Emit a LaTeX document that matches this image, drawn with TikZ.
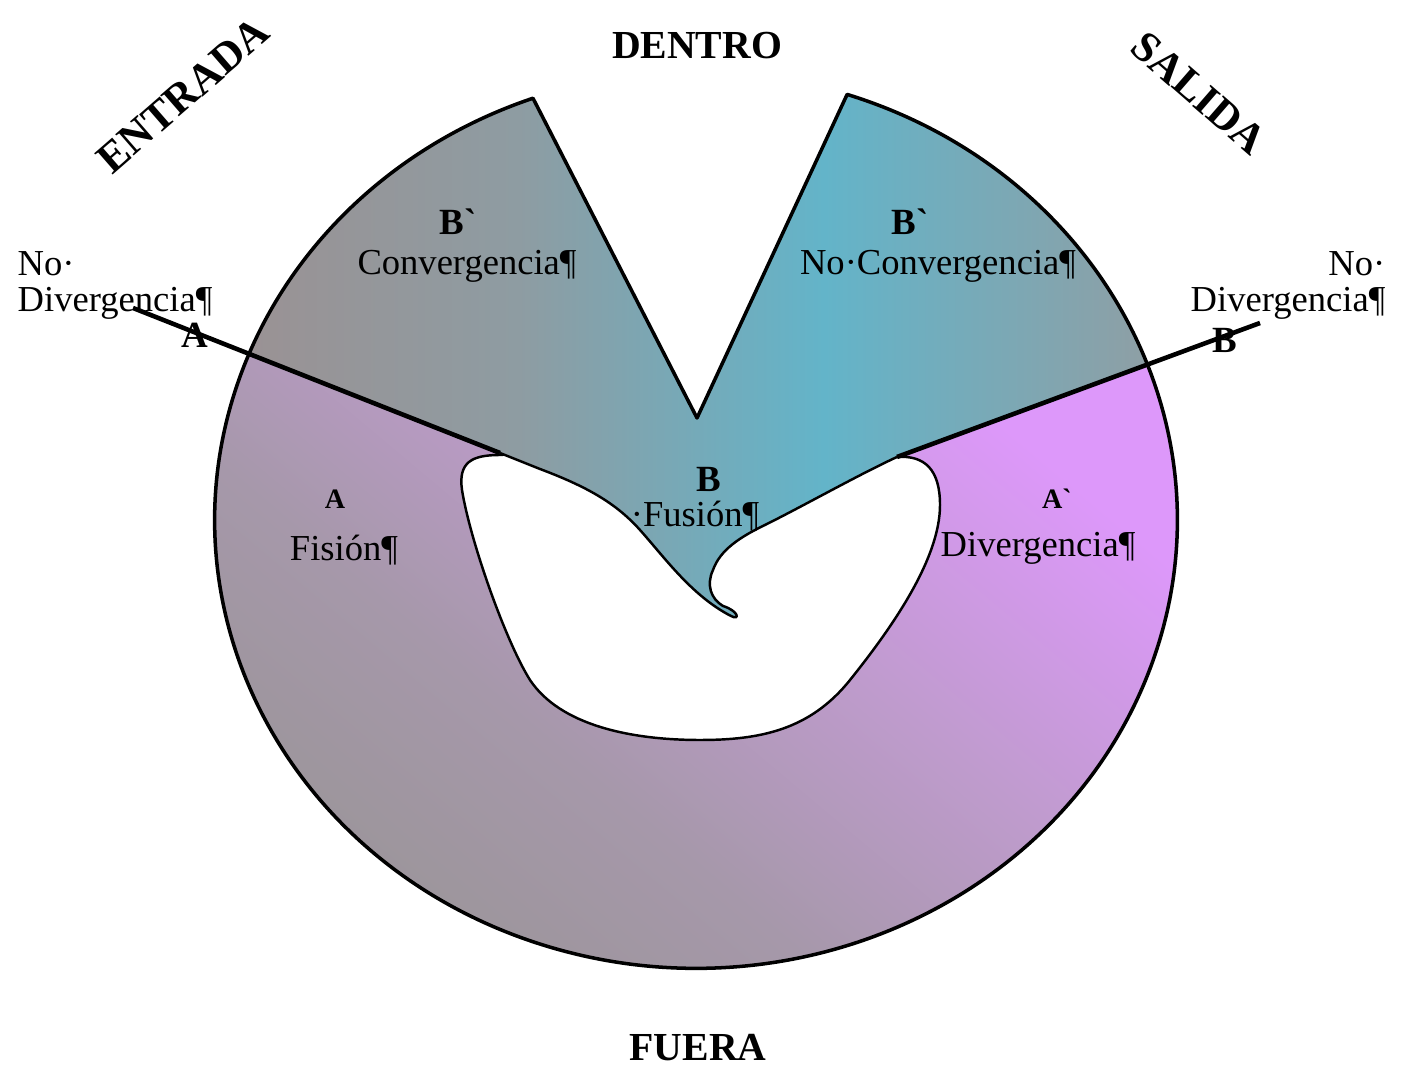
\documentclass[tikz,border=0pt]{standalone}
\usepackage{fontspec}
\setmainfont{Liberation Serif}
\newcommand\grv{\XeTeXglyph\XeTeXcharglyph"60\relax}
\definecolor{upA}{HTML}{9A9294}
\definecolor{upB}{HTML}{8E9CA2}
\definecolor{upC}{HTML}{63B4C9}
\definecolor{upD}{HTML}{8E9FA5}
\definecolor{loA}{HTML}{989495}
\definecolor{loB}{HTML}{A698AA}
\definecolor{loC}{HTML}{BF9BCD}
\definecolor{loD}{HTML}{DD98FA}
\pgfdeclarehorizontalshading{uppershade}{100bp}{color(0bp)=(upA); color(25bp)=(upA); color(40bp)=(upB); color(57bp)=(upC); color(75bp)=(upD); color(100bp)=(upD)}
\pgfdeclarehorizontalshading{lowershade}{100bp}{color(0bp)=(loA); color(25bp)=(loA); color(43bp)=(loB); color(58bp)=(loC); color(75bp)=(loD); color(100bp)=(loD)}
\tikzset{
  txt/.style={font=\fontsize{10.4}{10.2}\selectfont, inner sep=0pt},
  bl/.style={font=\bfseries\fontsize{10.5}{12}\selectfont, inner sep=0pt},
  sm/.style={font=\bfseries\fontsize{8}{10}\selectfont, inner sep=0pt},
  capt/.style={font=\bfseries\fontsize{11.3}{13}\selectfont, inner sep=0pt},
  capr/.style={font=\bfseries\fontsize{12.2}{14}\selectfont, inner sep=0pt},
  outline/.style={line width=1pt, line join=round},
  thickline/.style={line width=1.3pt},
  thinline/.style={line width=0.7pt}
}
\begin{document}
\begin{tikzpicture}[x=0.01cm, y=0.01cm]
\useasboundingbox (0,0) rectangle (1425,-1077);
% key points
\coordinate (C) at (696,-520);
\path (C) ++(158.3:4.81cm and 4.48cm) coordinate (LA);
\path (C) ++(20.3:4.81cm and 4.48cm) coordinate (RB);
\path (C) ++(71.7:4.81cm and 4.48cm) coordinate (RT);
\path (C) ++(109.8:4.81cm and 4.48cm) coordinate (LT);
\coordinate (VB) at (697,-418);
\coordinate (A0) at (133,-308);
\coordinate (A1) at (500,-453);
\coordinate (A2) at (540,-469);
\coordinate (T1) at (640,-530);
\coordinate (TT) at (731,-616);
\coordinate (T2) at (723,-606);
\coordinate (T3) at (713,-570);
\coordinate (T4) at (765,-525);
\coordinate (B1) at (897,-457);
\coordinate (B0) at (1260,-323);
% lower region
\path[shading=lowershade, shading angle=50] (LA) arc[start angle=158.3, end angle=380.3, x radius=4.81cm, y radius=4.48cm] -- (B1) -- (A1) -- cycle;
% hole
\filldraw[fill=white, thinline] (B1) .. controls (925,-455) and (940,-470) .. (940,-505)
  .. controls (940,-560) and (890,-630) .. (850,-680)
  .. controls (810,-730) and (760,-740) .. (700,-740)
  .. controls (630,-740) and (560,-725) .. (530,-680)
  .. controls (505,-640) and (470,-540) .. (462,-490)
  .. controls (458,-462) and (472,-455) .. (500,-455) -- (700,-440) -- cycle;
% upper region
\path[shading=uppershade] (LA) -- (A1) -- (A2) .. controls (585,-486) and (615,-502) .. (T1)
  .. controls (665,-558) and (692,-596) .. (TT)
  .. controls (740,-621) and (739,-611) .. (T2)
  .. controls (711,-599) and (706,-585) .. (T3)
  .. controls (720,-550) and (740,-537) .. (T4)
  .. controls (805,-505) and (860,-474) .. (B1) -- (RB)
  arc[start angle=20.3, end angle=71.7, x radius=4.81cm, y radius=4.48cm] -- (VB) -- (LT)
  arc[start angle=109.8, end angle=158.3, x radius=4.81cm, y radius=4.48cm] -- cycle;
% tongue outline
\draw[thinline] (A1) -- (A2) .. controls (585,-486) and (615,-502) .. (T1)
  .. controls (665,-558) and (692,-596) .. (TT)
  .. controls (740,-621) and (739,-611) .. (T2)
  .. controls (711,-599) and (706,-585) .. (T3)
  .. controls (720,-550) and (740,-537) .. (T4)
  .. controls (805,-505) and (860,-474) .. (B1);
% dividing lines
\draw[thickline] (A0) -- (A1);
\draw[thickline] (B0) -- (B1);
% outer outline
\draw[outline] (LT) -- (VB) -- (RT) arc[start angle=71.7, end angle=-250.2, x radius=4.81cm, y radius=4.48cm] -- cycle;
% texts
\node[capt, anchor=base] (dentro) at (697,-59) {DENTRO};
\node[capt, anchor=base] (fuera) at (698,-1060) {FUERA};
\node[capr, rotate=41, anchor=center] (entrada) at (183,-95) {ENTRADA};
\node[capr, rotate=-41, anchor=center] (salida) at (1199,-93) {SALIDA};
\node[txt, align=left, anchor=west] (nodivA) at (17,-285.5) {No·\\Divergencia¶};
\node[txt, align=right, anchor=east] (nodivB) at (1386,-285.5) {No·\\Divergencia¶};
\node[bl, anchor=base] (Bl) at (458,-235) {B\grv};
\node[txt, anchor=base] (conv) at (467,-275) {Convergencia¶};
\node[bl, anchor=base] (Br) at (910,-235) {B\grv};
\node[txt, anchor=base] (noconv) at (938,-275) {No·Convergencia¶};
\node[bl, anchor=base] (Bf) at (709,-492) {B};
\node[txt, anchor=base] (fusion) at (695,-527) {·Fusión¶};
\node[sm, anchor=base] (Afis) at (335,-509) {A};
\node[txt, anchor=base] (fision) at (344,-561) {Fisión¶};
\node[sm, anchor=base] (Adiv) at (1057,-509) {A\grv};
\node[txt, anchor=base] (diverg) at (1038,-557) {Divergencia¶};
\node[bl, anchor=base] (Aline) at (195,-348) {A};
\node[bl, anchor=base] (Bline) at (1225,-353) {B};
\end{tikzpicture}
\end{document}
